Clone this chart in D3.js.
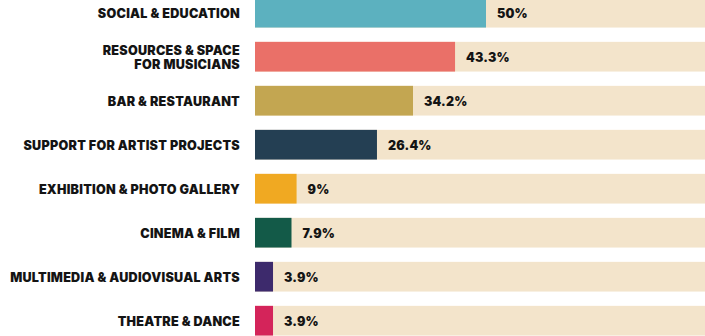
<!DOCTYPE html>
<html><head><meta charset="utf-8">
<script src="https://cdn.jsdelivr.net/npm/d3@7"></script>
<style>
html,body{margin:0;padding:0;background:#fff;overflow:hidden}
text{font-family:Inter,"Open Sans",sans-serif;font-weight:900;fill:#141414}
</style></head>
<body>
<svg id="c" width="705" height="336"></svg>
<script>
const categories = [
  ["SOCIAL & EDUCATION"],
  ["RESOURCES & SPACE","FOR MUSICIANS"],
  ["BAR & RESTAURANT"],
  ["SUPPORT FOR ARTIST PROJECTS"],
  ["EXHIBITION & PHOTO GALLERY"],
  ["CINEMA & FILM"],
  ["MULTIMEDIA & AUDIOVISUAL ARTS"],
  ["THEATRE & DANCE"]
];
const values = [50, 43.3, 34.2, 26.4, 9, 7.9, 3.9, 3.9];
const valueLabels = ["50%","43.3%","34.2%","26.4%","9%","7.9%","3.9%","3.9%"];
const colors = ["#5CB1BF","#EA7068","#C3A651","#243F53","#F0A922","#135A48","#3D2A6C","#D4245A"];

const svg = d3.select("#c");
const x = d3.scaleLinear().domain([0,100]).range([255,717]);
const idx = d3.range(values.length);
const y = d3.scaleBand().domain(idx).range([-9.3, 342.7]).paddingInner(0.325).paddingOuter(0.1625);

const g = svg.selectAll("g.row").data(idx).join("g").attr("class","row");
g.append("rect").attr("x",x(0)).attr("y",i=>y(i)).attr("width",x(100)-x(0)).attr("height",y.bandwidth()).attr("fill","#F3E4CB");
g.append("rect").attr("x",x(0)).attr("y",i=>y(i)).attr("width",i=>x(values[i])-x(0)).attr("height",y.bandwidth()).attr("fill",i=>colors[i]);
g.append("text").attr("x",i=>x(values[i])+11).attr("y",i=>y(i)+y.bandwidth()/2+0.8).attr("dy","0.36em")
  .style("font-size","12.5px").style("letter-spacing","0.2px").text(i=>valueLabels[i]);
g.each(function(i){
  const lines = categories[i];
  const cy = y(i)+y.bandwidth()/2+0.8;
  const lh = 13.3;
  const t = d3.select(this).append("text").attr("x",240).attr("text-anchor","end")
    .style("font-size","12.6px").style("letter-spacing","0.25px");
  lines.forEach((l,k)=>{
    t.append("tspan").attr("x",240).attr("y",cy + (k-(lines.length-1)/2)*lh).attr("dy","0.36em").text(l);
  });
});
</script>
</body></html>
